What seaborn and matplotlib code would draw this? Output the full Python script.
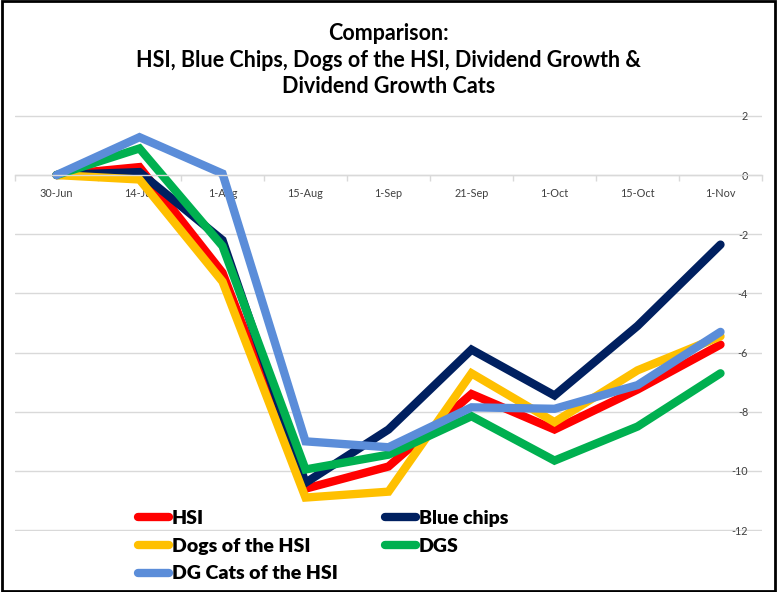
import matplotlib
matplotlib.use("Agg")
import matplotlib.pyplot as plt
import seaborn as sns
import pandas as pd
from matplotlib.patches import Rectangle
from matplotlib.ticker import FixedLocator
from matplotlib.lines import Line2D

dates = ["30-Jun", "14-Jul", "1-Aug", "15-Aug", "1-Sep", "21-Sep", "1-Oct", "15-Oct", "1-Nov"]
hsi = [0, 0.27, -3.3, -10.6, -9.85, -7.4, -8.6, -7.25, -5.73]
blue_chips = [0, 0.1, -2.2, -10.4, -8.6, -5.9, -7.45, -5.1, -2.35]
dogs = [0, -0.15, -3.6, -10.9, -10.7, -6.7, -8.35, -6.6, -5.45]
dgs = [0, 0.9, -2.4, -9.95, -9.45, -8.15, -9.65, -8.5, -6.7]
dg_cats = [0, 1.28, 0.05, -9.0, -9.2, -7.85, -7.9, -7.1, -5.3]

series_names = ["HSI", "Blue chips", "Dogs of the HSI", "DGS", "DG Cats of the HSI"]
series_vals = [hsi, blue_chips, dogs, dgs, dg_cats]
colors = ["#FF0000", "#002060", "#FFC000", "#00B050", "#5B8DD9"]
yticks = [2, 0, -2, -4, -6, -8, -10, -12]

rows = []
for name, vals in zip(series_names, series_vals):
    for i, v in enumerate(vals):
        rows.append({"pos": i, "date": dates[i], "value": v, "series": name})
df = pd.DataFrame(rows)

sns.set_theme(style="white")
plt.rcParams["font.family"] = ["Lato", "DejaVu Sans"]

fig = plt.figure(figsize=(7.77, 5.92), dpi=100)
ax = fig.add_axes([15 / 777, 1 - 531 / 592, (762 - 15) / 777, (531 - 115) / 592])

sns.lineplot(data=df, x="pos", y="value", hue="series", hue_order=series_names,
             palette=colors, linewidth=6, sort=False, ax=ax,
             solid_capstyle="round", solid_joinstyle="miter", legend=False)

ax.set_xlim(-0.5, len(dates) - 0.5)
ax.set_ylim(-12.03, 2.03)
ax.set_xlabel("")
ax.set_ylabel("")

for s in ["top", "left", "right"]:
    ax.spines[s].set_visible(False)
ax.yaxis.grid(True, color="#D9D9D9", linewidth=1)
ax.xaxis.grid(False)
ax.set_axisbelow(True)

# x axis crossing at zero
ax.spines["bottom"].set_position(("data", 0))
ax.spines["bottom"].set_color("#D9D9D9")
ax.spines["bottom"].set_linewidth(1)
ax.set_xticks(range(len(dates)))
ax.set_xticklabels(dates, fontsize=7.8, color="#404040")
ax.xaxis.set_minor_locator(FixedLocator([i - 0.5 for i in range(len(dates) + 1)]))
ax.tick_params(axis="x", which="major", length=0, pad=9)
ax.tick_params(axis="x", which="minor", length=4, color="#D9D9D9", width=1, bottom=True)

# y axis labels on the right, inside the plot area
ax.yaxis.tick_right()
ax.set_yticks(yticks)
ax.set_yticklabels([str(t) for t in yticks], fontsize=7.8, color="#404040")
ax.tick_params(axis="y", length=0, pad=-10)
for lab in ax.get_yticklabels():
    lab.set_horizontalalignment("right")

fig.suptitle("Comparison:\nHSI, Blue Chips, Dogs of the HSI, Dividend Growth &\nDividend Growth Cats",
             y=1 - 23 / 592, fontsize=15.5, fontweight="bold", linespacing=1.33, color="black")

# legend (row-major order: reorder for matplotlib's column-major filling)
order = [0, 2, 4, 1, 3]
handles = [Line2D([0], [0], color=colors[i], linewidth=6, solid_capstyle="round") for i in order]
labels = [series_names[i] for i in order]
leg = fig.legend(handles, labels, loc="upper left", ncol=2,
                 bbox_to_anchor=(138 / 777, 1 - 510 / 592), frameon=False,
                 prop={"weight": "heavy", "size": 14, "family": ["Lato", "DejaVu Sans"]},
                 handlelength=1.6, handletextpad=0.15, columnspacing=2.4,
                 labelspacing=0.55, borderaxespad=0, borderpad=0)
for t in leg.get_texts():
    t.set_color("black")

fig.patches.append(Rectangle((0.002, 0.002), 0.996, 0.996, transform=fig.transFigure,
                             fill=False, edgecolor="black", linewidth=2))

fig.savefig("out.png", dpi=100)
